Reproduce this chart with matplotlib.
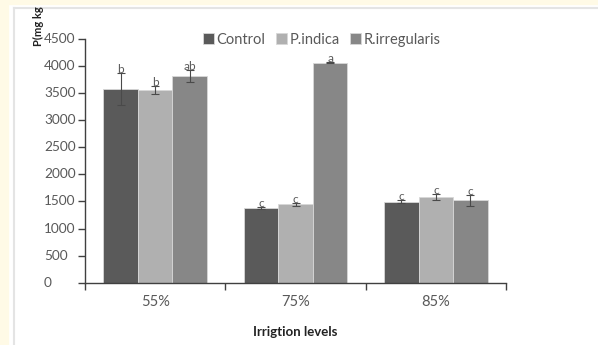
import numpy as np
import matplotlib
matplotlib.use('Agg')
import matplotlib.pyplot as plt
import matplotlib.transforms as mtrans
from matplotlib.patches import Rectangle

## Data ##
levels = ['55%', '75%', '85%']
series = ['Control', 'P.indica', 'R.irregularis']
control = [3580, 1385, 1495]
pindica = [3555, 1445, 1590]
rirreg = [3815, 4060, 1520]
control_err = [290, 20, 30]
pindica_err = [75, 25, 55]
rirreg_err = [110, 10, 105]
control_lbl = ['b', 'c', 'c']
pindica_lbl = ['b', 'c', 'c']
rirreg_lbl = ['ab', 'a', 'c']
y_ticks = [0, 500, 1000, 1500, 2000, 2500, 3000, 3500, 4000, 4500]

colors = ['#5a5a5a', '#b0b0b0', '#878787']
text_gray = '#595959'

plt.rcParams['font.family'] = ['Lato', 'DejaVu Sans']

fig = plt.figure(figsize=(5.98, 3.45), dpi=100)
fig.patch.set_facecolor('white')

# cream page strips and light frame around the figure panel
fig.add_artist(Rectangle((0, 0), 8 / 598, 1, transform=fig.transFigure,
                         color='#fffae6', zorder=0))
fig.add_artist(Rectangle((0, 1 - 4 / 345), 1, 4 / 345, transform=fig.transFigure,
                         color='#fffae6', zorder=0))
fig.add_artist(plt.Line2D([13.5 / 598, 13.5 / 598], [0, 1 - 8 / 345],
                          transform=fig.transFigure, color='#e4e4e4', lw=1.5))
fig.add_artist(plt.Line2D([13.5 / 598, 1], [1 - 8 / 345, 1 - 8 / 345],
                          transform=fig.transFigure, color='#e4e4e4', lw=1.5))

ax = fig.add_axes([85 / 598, 1 - 282.7 / 345, 421 / 598, 243.7 / 345])
ax.set_facecolor('none')

x = np.arange(len(levels))
w = 0.247
all_vals = [control, pindica, rirreg]
all_err = [control_err, pindica_err, rirreg_err]
all_lbl = [control_lbl, pindica_lbl, rirreg_lbl]
for i, (vals, errs, lbls) in enumerate(zip(all_vals, all_err, all_lbl)):
    pos = x + (i - 1) * w
    ax.bar(pos, vals, width=w, color=colors[i], edgecolor='#d8d8d8', linewidth=0.6,
           label=series[i], zorder=2)
    ax.errorbar(pos, vals, yerr=errs, fmt='none', ecolor='#4a4a4a', elinewidth=0.8,
                capsize=3, capthick=0.8, zorder=3)
    for p, v, e, l in zip(pos, vals, errs, lbls):
        ax.text(p, v + e - 40, l, ha='center', va='bottom', fontsize=8.5,
                color=text_gray, zorder=4)

ax.set_xlim(-0.5, 2.5)
ax.set_ylim(0, 4500)
ax.set_yticks(y_ticks)
ax.set_yticklabels([])
ax.set_xticks(x)
ax.set_xticklabels(levels)
ax.set_xticks([-0.5, 0.5, 1.5, 2.5], minor=True)
ax.tick_params(axis='x', which='major', length=0, pad=9, labelsize=10.5, labelcolor=text_gray)
ax.tick_params(axis='x', which='minor', length=5, width=1, color='#404040', direction='out')
ax.tick_params(axis='y', length=5, width=1, color='#404040')

# y tick labels are left-aligned in the original
ytrans = mtrans.blended_transform_factory(fig.transFigure, ax.transData)
for t in y_ticks:
    fig.text(44 / 598, t, str(t), transform=ytrans, ha='left', va='center',
             fontsize=9.8, color=text_gray)

for s in ['top', 'right']:
    ax.spines[s].set_visible(False)
for s in ['left', 'bottom']:
    ax.spines[s].set_color('#404040')
    ax.spines[s].set_linewidth(1)

ax.set_xlabel('Irrigtion levels', fontsize=9.5, fontweight='bold', color='#222222', labelpad=12)
fig.text(38 / 598, 1 - 46 / 345, 'P(mg kg', rotation=90, ha='center', va='bottom',
         fontsize=8, fontweight='bold', color='#222222')

ax.legend(loc='upper left', bbox_to_anchor=(112 / 421, 1 + 12 / 243.7), ncol=3,
          frameon=False, fontsize=10.5, handlelength=0.75, handleheight=0.75,
          handletextpad=0.2, columnspacing=0.7, labelcolor=text_gray,
          borderaxespad=0)

fig.savefig('out.png', dpi=100)
